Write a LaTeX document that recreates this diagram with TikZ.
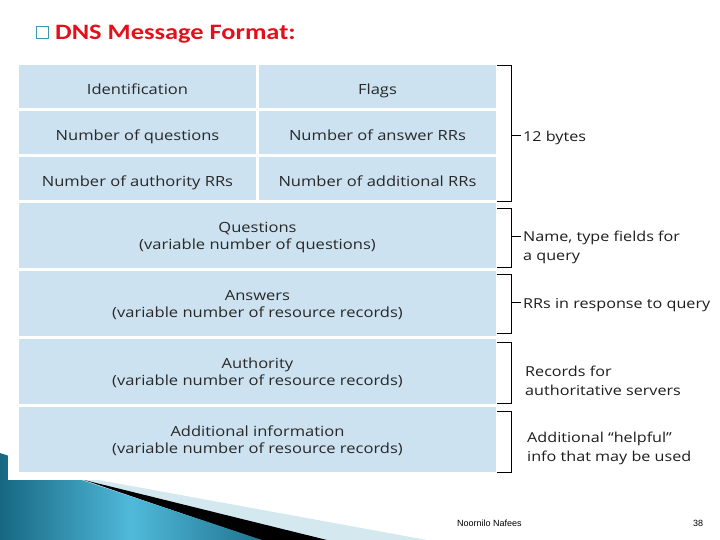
\documentclass[tikz,border=0pt]{standalone}
\usepackage{fontspec}
\setmainfont{Open Sans}[FakeStretch=1.18]
\newfontfamily\titlefont{Carlito}[FakeStretch=1.2]
\newfontfamily\footfont{Liberation Sans}
\usetikzlibrary{positioning}
\definecolor{cellblue}{RGB}{204,226,240}
\definecolor{celltext}{RGB}{40,40,40}
\definecolor{notetext}{RGB}{30,28,28}
\definecolor{titlered}{RGB}{227,16,27}
\definecolor{bullet}{RGB}{62,154,171}
\definecolor{bandlight}{RGB}{212,232,240}
\definecolor{banddark}{RGB}{22,104,130}
\definecolor{bandmid}{RGB}{80,185,218}
\tikzset{
  field/.style={fill=cellblue,text=celltext,minimum width=237pt,minimum height=43pt,inner sep=0pt,outer sep=0pt,align=center,text height=16pt,text depth=0pt,font=\fontsize{14}{17}\selectfont},
  wide/.style={field,minimum width=477pt,minimum height=65pt,text height=,text depth=0pt},
  bracket/.style={draw=black,line width=0.8pt},
  note/.style={anchor=west,align=left,inner xsep=2pt,inner ysep=0pt,text=notetext,font=\fontsize{13.7}{19}\selectfont},
  foot/.style={anchor=base west,inner sep=0pt,font=\footfont\fontsize{9}{10}\selectfont}
}

\begin{document}
\begin{tikzpicture}[x=1pt,y=-1pt,node distance=3pt and 3pt]
\useasboundingbox (0,0) rectangle (720,540);
% slide band at the bottom
\fill[bandlight] (0,462) -- (427,540) -- (0,540) -- cycle;
\fill[black] (84,480) -- (327,540) -- (260,540) -- cycle;
\shade[left color=banddark,right color=banddark!85!bandmid,middle color=bandmid] (0,453) -- (262,540) -- (0,540) -- cycle;
\fill[white] (8,60) rectangle (500,480);
% title
\node[draw=bullet,line width=1pt,minimum size=12pt,inner sep=0pt] (box) at (42,33) {};
\node[anchor=base west,inner sep=0pt,text=titlered,font=\titlefont\bfseries\fontsize{22}{26}\selectfont] (title) at (55,40) {DNS Message Format:};
% header fields
\node[field] (ident) at (137.5,86.5) {Identification};
\node[field, right=of ident] (flags) {Flags};
\node[field, below=of ident] (nques) {Number of questions};
\node[field, below=of flags] (nansw) {Number of answer RRs};
\node[field, below=of nques] (nauth) {Number of authority RRs};
\node[field, below=of nansw] (naddl) {Number of additional RRs};
% variable sections
\node[wide, below=of nauth.south west, anchor=north west] (ques) {Questions\\(variable number of questions)};
\node[wide, below=of ques] (answ) {Answers\\(variable number of resource records)};
\node[wide, below=of answ] (auth) {Authority\\(variable number of resource records)};
\node[wide, below=of auth] (addl) {Additional information\\(variable number of resource records)};
% brackets
\draw[bracket] (497,65) -| (511,201) -- (497,201);
\draw[bracket] (497,208) -| (511,267) -- (497,267);
\draw[bracket] (497,274) -| (511,333) -- (497,333);
\draw[bracket] (497,342) -| (511,403) -- (497,403);
\draw[bracket] (497,411) -| (511,472) -- (497,472);
% notes
\coordinate (hdrtick) at (511,135);
\coordinate (questick) at (511,236);
\coordinate (answtick) at (511,302);
\node[note] (hdrnote) at (521,138) {12 bytes};
\node[note] (quesnote) at (521,247.5) {Name, type fields for\\a query};
\node[note] (answnote) at (521,305) {RRs in response to query};
\node[note] (authnote) at (523,381) {Records for\\authoritative servers};
\node[note] (addlnote) at (525,448.5) {Additional “helpful”\\info that may be used};
\draw[bracket] (hdrtick) -- (hdrtick -| hdrnote.west);
\draw[bracket] (questick) -- (questick -| quesnote.west);
\draw[bracket] (answtick) -- (answtick -| answnote.west);
% footer
\node[foot] (author) at (457,526) {Noornilo Nafees};
\node[foot] (page) at (693,526) {38};
\end{tikzpicture}
\end{document}
